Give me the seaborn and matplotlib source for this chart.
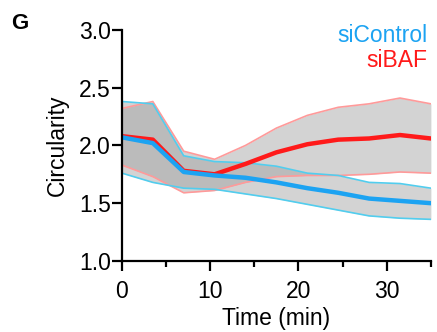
import matplotlib
matplotlib.use("Agg")
import matplotlib.pyplot as plt
from matplotlib.ticker import MultipleLocator
import seaborn as sns
import pandas as pd

# time points (min)
time = [0, 3.5, 7, 10.5, 14, 17.5, 21, 24.5, 28, 31.5, 35]

# siControl mean and band
ctrl_mean = [2.07, 2.02, 1.77, 1.74, 1.72, 1.68, 1.63, 1.59, 1.54, 1.52, 1.50]
ctrl_upper = [2.38, 2.36, 1.91, 1.86, 1.85, 1.82, 1.76, 1.74, 1.68, 1.67, 1.63]
ctrl_lower = [1.76, 1.68, 1.63, 1.62, 1.58, 1.54, 1.49, 1.44, 1.39, 1.37, 1.36]

# siBAF mean and band
baf_mean = [2.08, 2.05, 1.78, 1.75, 1.84, 1.94, 2.01, 2.05, 2.06, 2.09, 2.06]
baf_upper = [2.32, 2.38, 1.95, 1.88, 2.00, 2.15, 2.26, 2.33, 2.36, 2.41, 2.36]
baf_lower = [1.83, 1.73, 1.59, 1.61, 1.68, 1.73, 1.74, 1.74, 1.75, 1.77, 1.76]

df = pd.DataFrame({"time": time,
                   "ctrl": ctrl_mean, "ctrl_hi": ctrl_upper, "ctrl_lo": ctrl_lower,
                   "baf": baf_mean, "baf_hi": baf_upper, "baf_lo": baf_lower})

sns.set_style("ticks")
plt.rcParams["font.family"] = ["Liberation Sans", "DejaVu Sans"]
plt.rcParams["text.color"] = "black"
plt.rcParams["axes.labelcolor"] = "black"

blue = "#1CA3F2"
red = "#FF1A1A"
lblue = "#52CDEE"
lred = "#FF9A9A"

fig = plt.figure(figsize=(4.37, 3.32), dpi=100)
ax = fig.add_axes([0.279, 0.214, 0.707, 0.696])

# shaded bands
ax.fill_between(df["time"], df["baf_lo"], df["baf_hi"], color="#9E9E9E", alpha=0.45, lw=0)
ax.fill_between(df["time"], df["ctrl_lo"], df["ctrl_hi"], color="#9E9E9E", alpha=0.45, lw=0)

# band edges
for col in ["baf_hi", "baf_lo"]:
    sns.lineplot(data=df, x="time", y=col, color=lred, lw=1.2, ax=ax)
for col in ["ctrl_hi", "ctrl_lo"]:
    sns.lineplot(data=df, x="time", y=col, color=lblue, lw=1.2, ax=ax)

# means
sns.lineplot(data=df, x="time", y="baf", color=red, lw=3.2, ax=ax)
sns.lineplot(data=df, x="time", y="ctrl", color=blue, lw=3.2, ax=ax)

ax.set_xlim(0, 35)
ax.set_ylim(1.0, 3.0)
ax.set_xticks([0, 10, 20, 30])
ax.xaxis.set_minor_locator(MultipleLocator(5))
ax.set_yticks([1.0, 1.5, 2.0, 2.5, 3.0])
ax.set_yticklabels(["1.0", "1.5", "2.0", "2.5", "3.0"])

for s in ["top", "right"]:
    ax.spines[s].set_visible(False)
for s in ["left", "bottom"]:
    ax.spines[s].set_linewidth(1.6)
    ax.spines[s].set_color("black")

ax.tick_params(axis="both", which="major", direction="out", length=7, width=1.6,
               labelsize=16.5, colors="black")
ax.tick_params(axis="y", which="major", pad=1)
ax.tick_params(axis="x", which="major", pad=6.5)
ax.tick_params(axis="x", which="minor", direction="out", length=4.5, width=1.6, color="black")

ax.set_xlabel("Time (min)", fontsize=16.5, labelpad=3, color="black")
ax.set_ylabel("Circularity", fontsize=16.5, labelpad=7, color="black")

ax.text(0.99, 0.975, "siControl", color=blue, fontsize=16.5, ha="right", va="center",
        transform=ax.transAxes)
ax.text(0.99, 0.868, "siBAF", color=red, fontsize=16.5, ha="right", va="center",
        transform=ax.transAxes)

fig.text(0.025, 0.929, "G", fontsize=16, fontweight="bold", va="center", color="black")

fig.savefig("out.png", dpi=100)
